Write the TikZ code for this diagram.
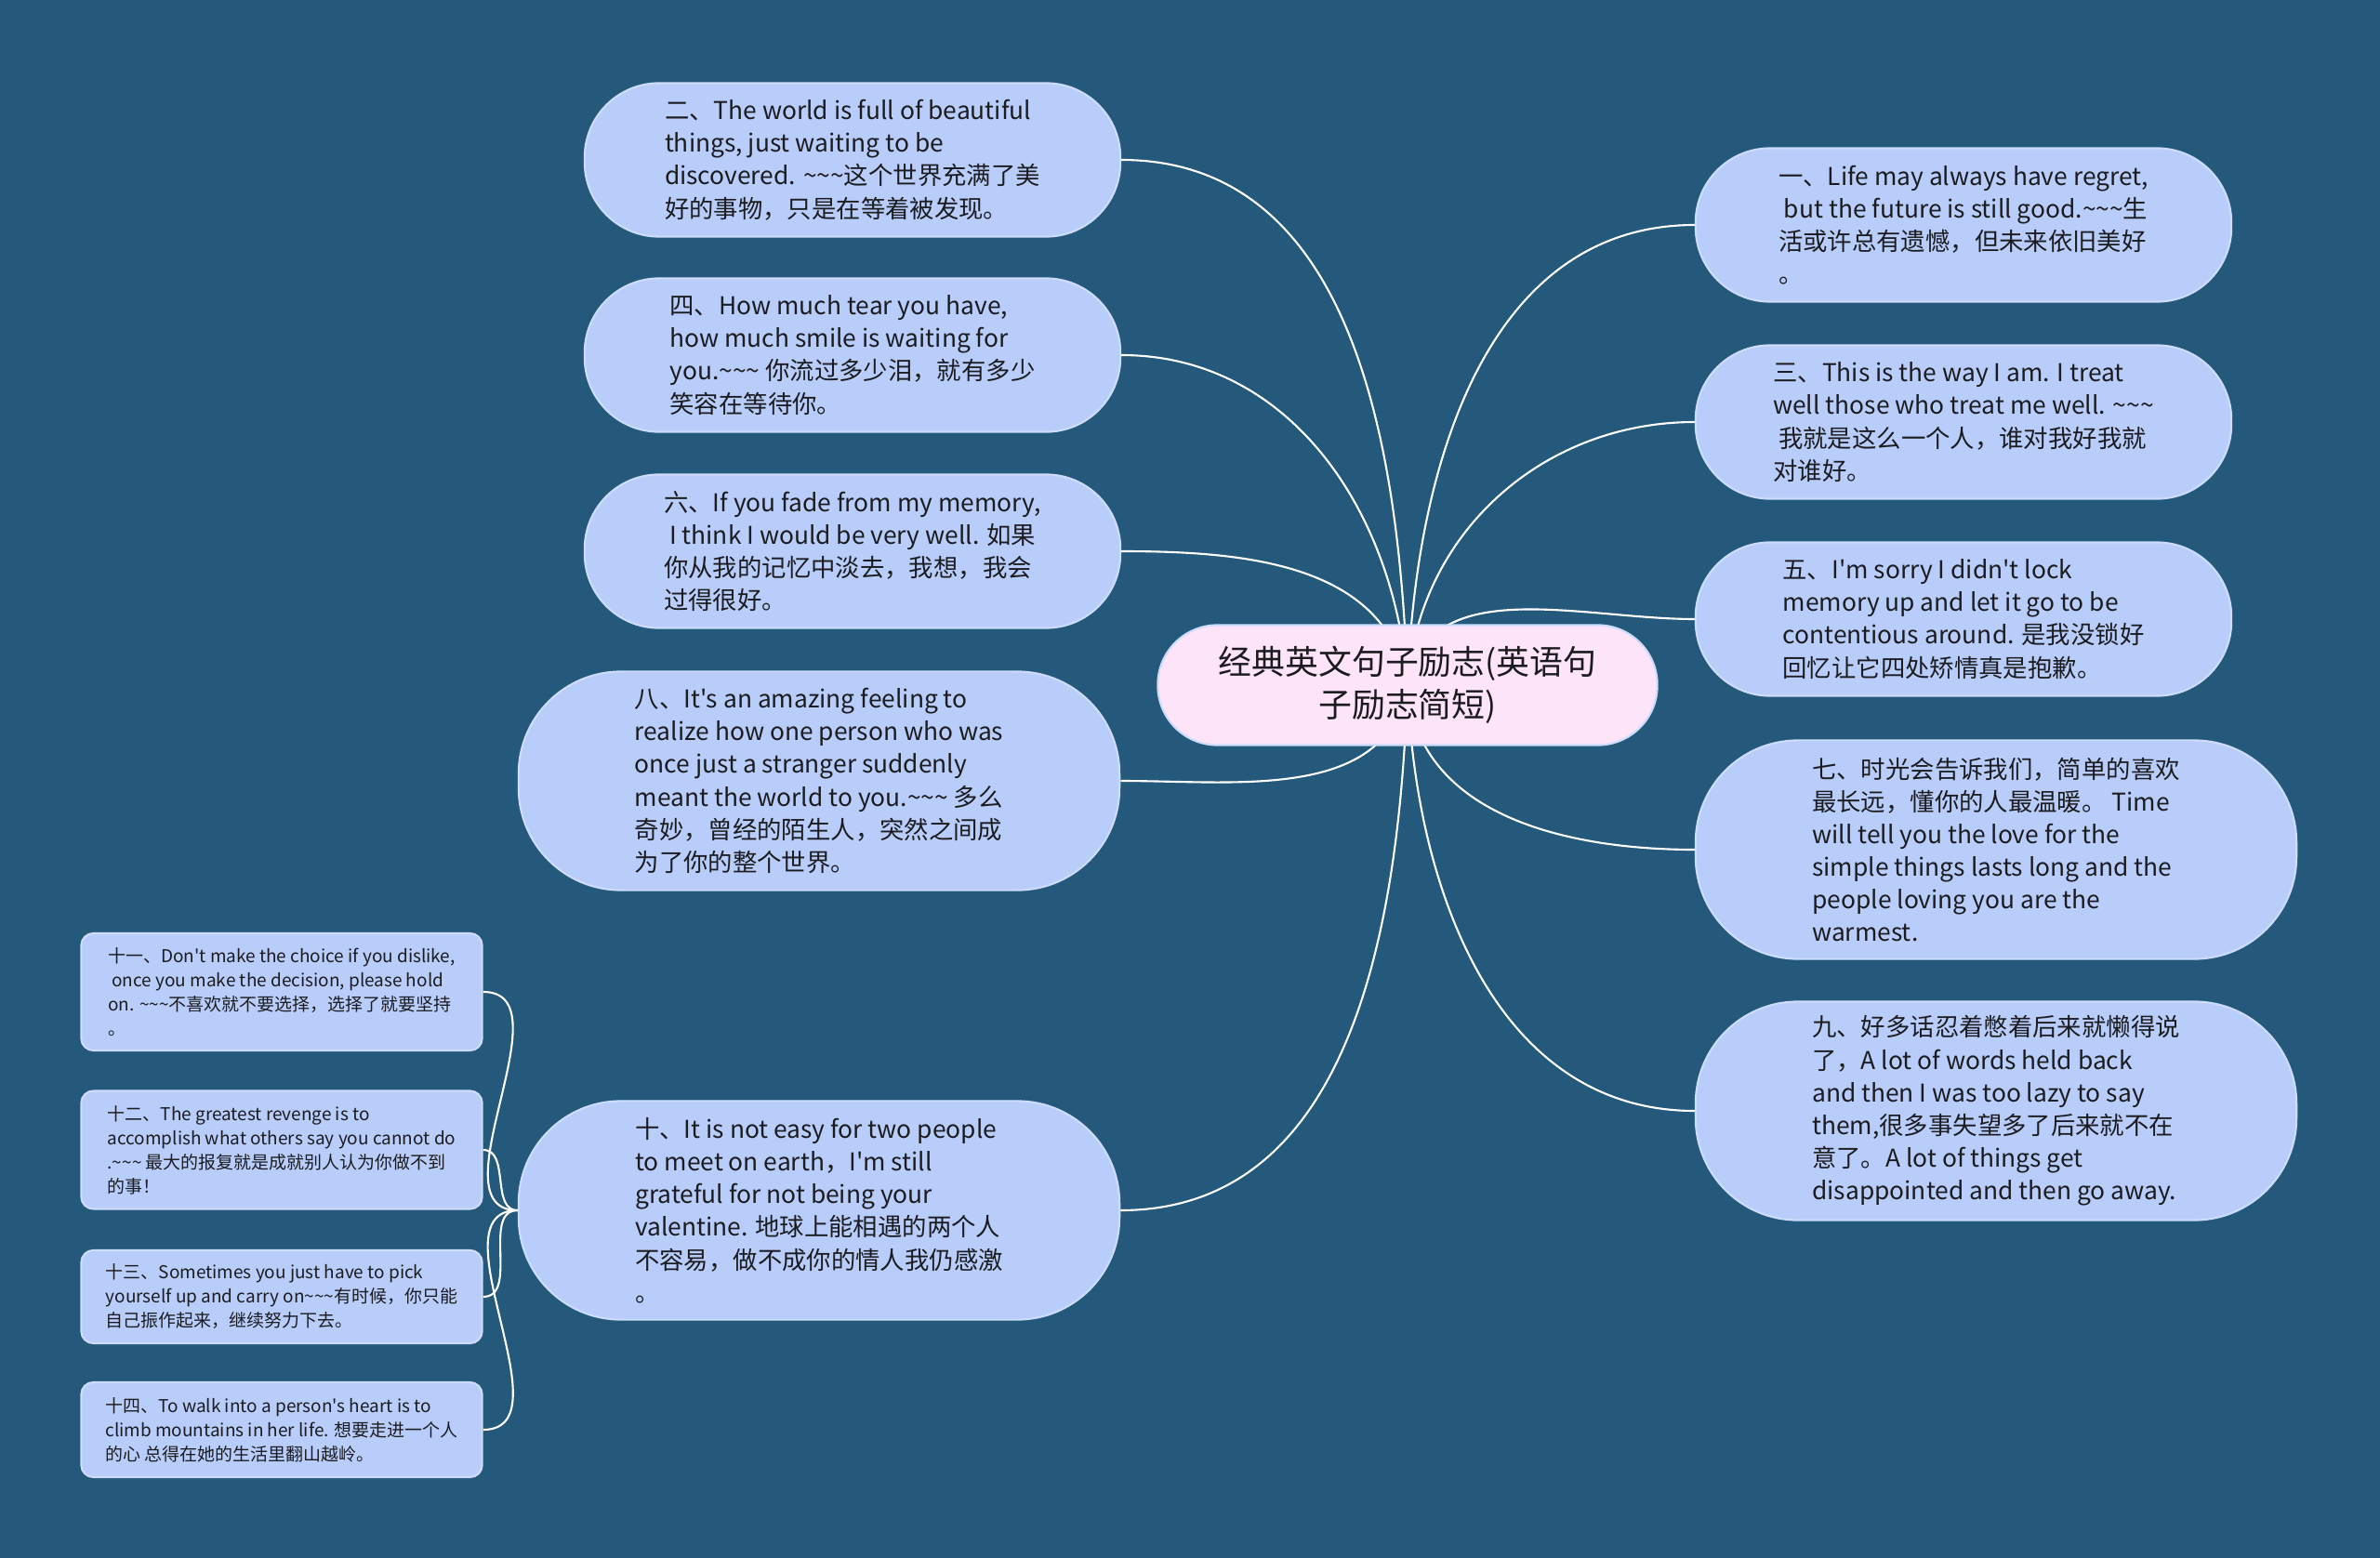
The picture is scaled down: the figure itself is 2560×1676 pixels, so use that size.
\documentclass[tikz,border=0pt]{standalone}
\usepackage{fontspec}
\setmainfont{Noto Sans CJK SC}[Ligatures=TeXOff]
\usepackage{xcolor}
\usepackage{tikz}
\definecolor{mapbg}{RGB}{36,89,124}
\definecolor{leaffill}{RGB}{185,205,250}
\definecolor{leafline}{RGB}{205,220,252}
\definecolor{rootfill}{RGB}{253,228,248}
\definecolor{inktext}{RGB}{28,28,32}
\newcommand{\tildes}{\textasciitilde\textasciitilde\textasciitilde}
\tikzset{
    leaf/.style={draw=leafline, fill=leaffill, line width=0.6pt,
                 rounded corners=8mm, minimum width=5.76cm, minimum height=1.65cm,
                 align=left, inner sep=0pt, text=inktext,
                 font=\fontsize{7.5}{10}\selectfont},
  bigleaf/.style={leaf, rounded corners=11mm,
                  minimum width=6.46cm, minimum height=2.35cm},
  note/.style={leaf, rounded corners=1.3mm, minimum width=4.31cm,
               font=\fontsize{5.4}{7.4}\selectfont},
  link/.style={white, line width=0.6pt}
}
\usetikzlibrary{positioning}
\pgfdeclarelayer{bg}
\pgfsetlayers{bg,main}

\begin{document}
\begin{tikzpicture}[x=0.01cm, y=-0.01cm,
    root/.style={draw=leafline, fill=rootfill, line width=0.6pt,
                 rounded corners=6.4mm, minimum width=5.37cm, minimum height=1.29cm,
                 align=center, inner sep=0pt, text=inktext,
                 font=\fontsize{10.2}{13}\selectfont}
]
\useasboundingbox (0,0) rectangle (2560,1676);
\begin{pgfonlayer}{bg}
\fill[mapbg] (0,0) rectangle (2560,1676);
\end{pgfonlayer}
\node[root] (root) at (1514,737) {经典英文句子励志(英语句\\子励志简短)};
% left branch
\node[leaf] (n2) at (917,172) {二、The world is full of beautiful\\things, just waiting to be\\discovered. \tildes{}这个世界充满了美\\好的事物，只是在等着被发现。};
\node[leaf] (n4) at (917,382) {四、How much tear you have,\\how much smile is waiting for\\you.\tildes{} 你流过多少泪，就有多少\\笑容在等待你。};
\node[leaf] (n6) at (917,593) {六、If you fade from my memory,\\\ I think I would be very well. 如果\\你从我的记忆中淡去，我想，我会\\过得很好。};
\node[bigleaf] (n8) at (881,840) {八、It's an amazing feeling to\\realize how one person who was\\once just a stranger suddenly\\meant the world to you.\tildes{} 多么\\奇妙，曾经的陌生人，突然之间成\\为了你的整个世界。};
\node[bigleaf] (n10) at (881,1302) {十、It is not easy for two people\\to meet on earth，I'm still\\grateful for not being your\\valentine. 地球上能相遇的两个人\\不容易，做不成你的情人我仍感激\\。};
% right branch
\node[leaf] (n1) at (2112,242) {一、Life may always have regret,\\\ but the future is still good.\tildes{}生\\活或许总有遗憾，但未来依旧美好\\。};
\node[leaf] (n3) at (2112,454) {三、This is the way I am. I treat\\well those who treat me well. \tildes{}\\\ 我就是这么一个人，谁对我好我就\\对谁好。};
\node[leaf] (n5) at (2112,666) {五、I'm sorry I didn't lock\\memory up and let it go to be\\contentious around. 是我没锁好\\回忆让它四处矫情真是抱歉。};
\node[bigleaf] (n7) at (2147,914) {七、时光会告诉我们，简单的喜欢\\最长远，懂你的人最温暖。 Time\\will tell you the love for the\\simple things lasts long and the\\people loving you are the\\warmest.};
\node[bigleaf] (n9) at (2147,1195) {九、好多话忍着憋着后来就懒得说\\了，A lot of words held back\\and then I was too lazy to say\\them,很多事失望多了后来就不在\\意了。A lot of things get\\disappointed and then go away.};
% notes under n10
\node[note, minimum height=1.26cm] (n11) at (303,1067) {十一、Don't make the choice if you dislike,\\\ once you make the decision, please hold\\on. \tildes{}不喜欢就不要选择，选择了就要坚持\\。};
\node[note, minimum height=1.27cm] (n12) at (303,1237) {十二、The greatest revenge is to\\accomplish what others say you cannot do\\.\tildes{} 最大的报复就是成就别人认为你做不到\\的事！};
\node[note, minimum height=1.00cm] (n13) at (303,1395) {十三、Sometimes you just have to pick\\yourself up and carry on\tildes{}有时候，你只能\\自己振作起来，继续努力下去。};
\node[note, minimum height=1.02cm] (n14) at (303,1538) {十四、To walk into a person's heart is to\\climb mountains in her life. 想要走进一个人\\的心 总得在她的生活里翻山越岭。};
\begin{pgfonlayer}{bg}
\foreach \k/\a in {n2/92,n4/94,n6/100,n8/-100,n10/-92}
    \draw[link] (root.center) to[out=\a, in=0] (\k.east);
\foreach \k/\a in {n1/88,n3/86,n5/80,n7/-86,n9/-88}
    \draw[link] (root.center) to[out=\a, in=180] (\k.west);
\foreach \k in {n11,n12,n13,n14}
    \draw[link] (n10.west) to[out=180, in=0] (\k.east);
\end{pgfonlayer}
\end{tikzpicture}
\end{document}
